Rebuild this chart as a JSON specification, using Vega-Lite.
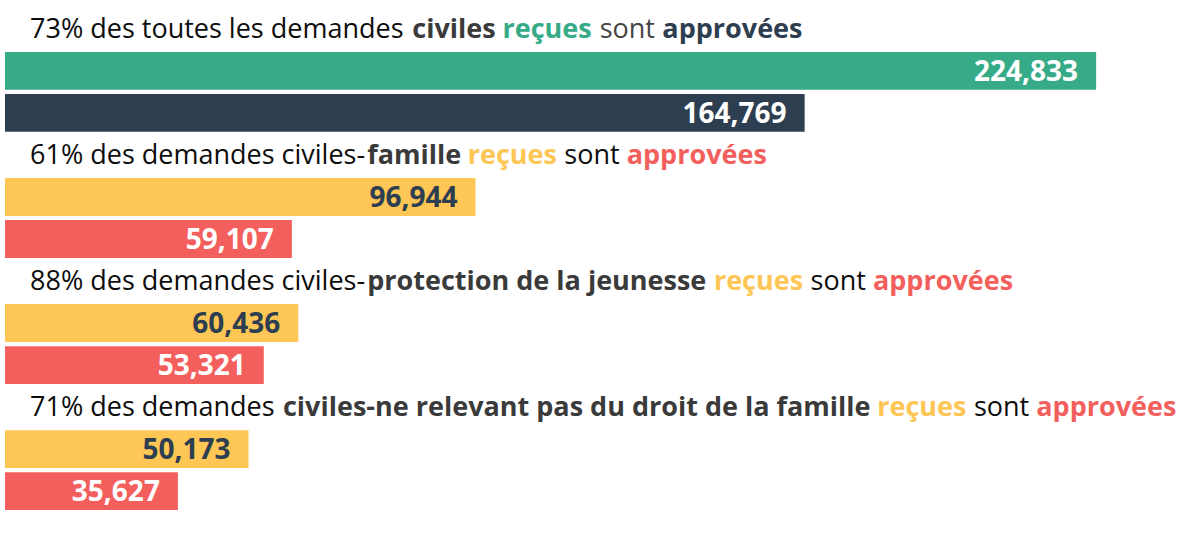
{
  "$schema": "https://vega.github.io/schema/vega-lite/v6.json",
  "width": 1189,
  "height": 500,
  "autosize": {"type": "none"},
  "padding": {"left": 5, "top": 10, "right": 6, "bottom": 25},
  "background": "white",
  "config": {"view": {"stroke": null}, "font": "Open Sans"},
  "datasets": {
    "barres": [
      {"ligne": "1 reçues", "serie": "toutes reçues", "n": 224833},
      {"ligne": "1 approvées", "serie": "toutes approvées", "n": 164769},
      {"ligne": "2 reçues", "serie": "reçues", "n": 96944},
      {"ligne": "2 approvées", "serie": "approvées", "n": 59107},
      {"ligne": "3 reçues", "serie": "reçues", "n": 60436},
      {"ligne": "3 approvées", "serie": "approvées", "n": 53321},
      {"ligne": "4 reçues", "serie": "reçues", "n": 50173},
      {"ligne": "4 approvées", "serie": "approvées", "n": 35627}
    ],
    "titres": [
      {"ligne": "1 titre", "segment": "73% des toutes les demandes", "role": "texte", "at": 0},
      {"ligne": "1 titre", "segment": "civiles", "role": "catégorie", "at": 14.16},
      {"ligne": "1 titre", "segment": "reçues", "role": "reçues (toutes)", "at": 17.5},
      {"ligne": "1 titre", "segment": "sont", "role": "sont (toutes)", "at": 21.1},
      {"ligne": "1 titre", "segment": "approvées", "role": "approvées (toutes)", "at": 23.42},
      {"ligne": "2 titre", "segment": "61% des demandes civiles-", "role": "texte", "at": 0},
      {"ligne": "2 titre", "segment": "famille", "role": "catégorie", "at": 12.49},
      {"ligne": "2 titre", "segment": "reçues", "role": "reçues", "at": 16.21},
      {"ligne": "2 titre", "segment": "sont", "role": "sont", "at": 19.79},
      {"ligne": "2 titre", "segment": "approvées", "role": "approvées", "at": 22.1},
      {"ligne": "3 titre", "segment": "88% des demandes civiles-", "role": "texte", "at": 0},
      {"ligne": "3 titre", "segment": "protection de la jeunesse", "role": "catégorie", "at": 12.49},
      {"ligne": "3 titre", "segment": "reçues", "role": "reçues", "at": 25.33},
      {"ligne": "3 titre", "segment": "sont", "role": "sont", "at": 28.91},
      {"ligne": "3 titre", "segment": "approvées", "role": "approvées", "at": 31.22},
      {"ligne": "4 titre", "segment": "71% des demandes", "role": "texte", "at": 0},
      {"ligne": "4 titre", "segment": "civiles-ne relevant pas du droit de la famille", "role": "catégorie", "at": 9.37},
      {"ligne": "4 titre", "segment": "reçues", "role": "reçues", "at": 31.38},
      {"ligne": "4 titre", "segment": "sont", "role": "sont", "at": 34.96},
      {"ligne": "4 titre", "segment": "approvées", "role": "approvées", "at": 37.27}
    ]
  },
  "encoding": {
    "y": {
      "field": "ligne",
      "type": "nominal",
      "axis": null,
      "scale": {
        "domain": ["1 titre", "1 reçues", "1 approvées", "2 titre", "2 reçues", "2 approvées", "3 titre", "3 reçues", "3 approvées", "4 titre", "4 reçues", "4 approvées"],
        "paddingInner": 0.1,
        "paddingOuter": 0
      }
    }
  },
  "layer": [
    {
      "data": {"name": "barres"},
      "mark": {"type": "bar"},
      "encoding": {
        "x": {"field": "n", "type": "quantitative", "axis": null, "scale": {"domain": [0, 245000], "nice": false, "zero": true}},
        "color": {
          "field": "serie",
          "type": "nominal",
          "legend": null,
          "scale": {
            "domain": ["toutes reçues", "toutes approvées", "reçues", "approvées"],
            "range": ["#37ab87", "#2d3e50", "#fec655", "#f25f5d"]
          }
        }
      }
    },
    {
      "data": {"name": "barres"},
      "mark": {"type": "text", "align": "right", "baseline": "middle", "dx": -18, "dy": 2, "fontSize": 28, "fontWeight": "bold", "font": "Open Sans"},
      "encoding": {
        "x": {"field": "n", "type": "quantitative", "axis": null, "scale": {"domain": [0, 245000], "nice": false, "zero": true}},
        "text": {"field": "n", "type": "quantitative", "format": ",d"},
        "color": {"condition": {"test": "datum.serie === 'reçues'", "value": "#2d3e50"}, "value": "#ffffff"}
      }
    },
    {
      "data": {"name": "titres"},
      "transform": [{"filter": {"field": "role", "oneOf": ["texte", "sont", "sont (toutes)"]}}],
      "mark": {"type": "text", "align": "left", "baseline": "alphabetic", "fontSize": 27, "fontWeight": "normal", "font": "Open Sans"},
      "encoding": {
        "x": {"field": "at", "type": "quantitative", "axis": null, "scale": {"domain": [-0.9259, 43.111], "nice": false, "zero": false}},
        "y": {"field": "ligne", "type": "nominal", "bandPosition": 0.741},
        "text": {"field": "segment", "type": "nominal"},
        "color": {
          "field": "role",
          "type": "nominal",
          "legend": null,
          "scale": {"domain": ["texte", "sont", "sont (toutes)"], "range": ["#0d0d0d", "#0d0d0d", "#444444"]}
        }
      }
    },
    {
      "data": {"name": "titres"},
      "transform": [{"filter": {"field": "role", "oneOf": ["catégorie", "reçues", "approvées", "reçues (toutes)", "approvées (toutes)"]}}],
      "mark": {"type": "text", "align": "left", "baseline": "alphabetic", "fontSize": 27, "fontWeight": "bold", "font": "Open Sans"},
      "encoding": {
        "x": {"field": "at", "type": "quantitative", "axis": null, "scale": {"domain": [-0.9259, 43.111], "nice": false, "zero": false}},
        "y": {"field": "ligne", "type": "nominal", "bandPosition": 0.741},
        "text": {"field": "segment", "type": "nominal"},
        "color": {
          "field": "role",
          "type": "nominal",
          "legend": null,
          "scale": {
            "domain": ["catégorie", "reçues", "approvées", "reçues (toutes)", "approvées (toutes)"],
            "range": ["#3a3a3a", "#fec655", "#f25f5d", "#37ab87", "#2d3e50"]
          }
        }
      }
    }
  ],
  "resolve": {"scale": {"x": "independent", "color": "independent"}}
}
